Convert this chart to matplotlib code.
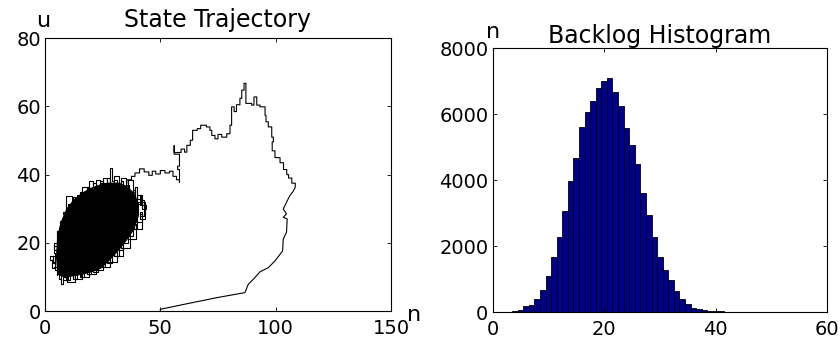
import matplotlib
matplotlib.use("Agg")
import matplotlib.pyplot as plt

plt.rcParams['font.family'] = ['DejaVu Sans']

# ---------------- data: state trajectory ----------------
# dense core region of the trajectory (outline of the solid cluster)
core_n = [5.5, 5, 5.5, 7, 9.5, 12.5, 16, 20, 24, 28, 32, 35.5, 38.5, 40.5, 40.5,
          38.5, 35.5, 32, 28, 24, 20, 16, 12, 8.5, 6.5]
core_u = [11.5, 16, 22, 26, 30, 32.5, 34.5, 36, 37, 37.5, 37.5, 36.5, 34.5, 31.5, 28,
          24, 21, 18, 15, 12.5, 11.5, 10.8, 10.3, 10, 10.5]

# ragged staircase around the cluster
edge_n = [3, 2, 3.5, 4.5, 4, 6, 5, 7, 6.5, 8, 9, 9, 11.6, 12, 13, 14, 15, 16, 18, 19,
          21, 22, 24, 25, 27, 28, 29, 30, 32, 33, 35, 36, 38, 39, 40, 42, 41, 43, 42,
          44, 43, 41, 42, 40, 40, 38, 38, 36, 36, 34, 34, 32, 32, 30, 29, 27, 26, 24,
          23, 21, 20, 18, 17, 15, 14, 12, 11, 9, 8, 7, 6, 5, 5, 4, 3]
edge_u = [15, 16, 14.5, 17, 19, 21, 23, 22, 25, 27, 24.5, 33.6, 30, 32, 31, 34, 33,
          36.5, 35, 38, 36, 38.5, 37, 39, 37.5, 42, 38, 39.5, 37, 39, 36, 38.5, 35,
          36.5, 33, 34, 31, 32.5, 30, 31, 28, 29, 26, 27, 24, 25, 22, 23, 20, 21, 18,
          19, 16, 17, 14, 15, 13, 14, 11.5, 12.5, 11, 12, 10, 11.5, 9.5, 11, 9, 10, 8,
          9.5, 11, 10.5, 13, 12.5, 15]

# second pass of the wandering around the cluster edge
edge2_n = [8, 10, 9.5, 13, 12, 16, 15.5, 19, 18, 22, 21.5, 25, 24, 28, 27, 31, 30, 34,
           33, 37, 36, 39.5, 38.5, 42, 41, 43.5, 40, 41.5, 38, 39, 35, 36.5, 33, 34,
           30, 31, 27, 28, 24, 25, 21, 22, 18, 19, 15, 16, 12, 13, 10, 11, 8, 9, 6.5,
           7.5, 5, 6, 4, 5, 3.5, 4.5, 6, 7]
edge2_u = [9, 10.5, 8.5, 11, 9.5, 12, 10, 12.5, 11, 13, 12, 14, 13, 15.5, 14.5, 17.5,
           16, 20, 18.5, 22.5, 21, 25.5, 24, 28.5, 27, 32, 34, 31.5, 35.5, 33, 37,
           35.5, 38, 36.5, 38.5, 37, 39, 37.5, 38, 36.5, 37.5, 36, 36.5, 34.5, 35, 33,
           33.5, 31.5, 31, 29, 28.5, 26.5, 25.5, 23.5, 22, 20, 18, 16, 14, 12, 11, 9.5]

# excursion path leaving the cluster
path_n = [35.5, 35.5, 37.5, 37.5, 39, 39, 41, 41, 43, 43, 45, 45, 46.5, 46.5, 48, 48,
          50, 50, 52, 52, 54, 54, 55.5, 55.5, 57, 57, 58.3, 58.3, 58.3, 57.5, 57.5,
          58.3, 58.3, 56, 56, 56, 59, 59, 60.5, 60.5, 61.5, 61.5, 63, 63, 64, 64, 66,
          66, 67.5, 67.5, 70, 70, 71.5, 71.5, 72.3, 72.3, 73.7, 73.7, 75, 75, 76.6,
          76.6, 78.8, 78.8, 80.2, 80.2, 80.9, 80.9, 82, 82, 83, 83, 84.5, 84.5, 85.3,
          85.3, 86.3, 86.3, 87.1, 87.1, 89.6, 89.6, 90.6, 90.6, 91.8, 91.8, 93.2,
          93.2, 95.4, 95.4, 95.8, 95.8, 96.8, 96.8, 98.3, 98.3, 99, 99, 98.5, 98.5,
          99.7, 99.7, 101.9, 101.9, 103.4, 103.4, 104.8, 104.8, 105.6, 105.6, 107,
          107, 108.5, 108.5, 107.5, 106.2, 104.7, 103.3, 104.7, 103.3, 105, 104.7,
          103.3, 103, 99.7, 96.8, 93.2, 91.0, 88.1, 86.7, 74.4, 59.9, 50.0, 50.0]
path_u = [37.5, 38.5, 38.5, 39.5, 39.5, 40.5, 40.5, 41.7, 41.7, 40.8, 40.8, 39.8,
          39.8, 41, 41, 40.2, 40.2, 41.2, 41.2, 40.5, 40.5, 41, 41, 39.5, 39.5, 38.5,
          38.5, 37.8, 41.5, 41.5, 42.5, 42.5, 46, 46, 48.5, 46.5, 46.5, 47.5, 47.5,
          46.6, 46.6, 48.6, 48.6, 50.1, 50.1, 53, 53, 53.5, 53.5, 54.5, 54.5, 54, 54,
          53, 53, 51.5, 51.5, 50.5, 50.5, 51.8, 51.8, 51, 51, 52, 52, 54.5, 54.5,
          59.9, 59.9, 58.5, 58.5, 60.5, 60.5, 62.4, 62.4, 64.8, 64.8, 66.8, 66.8,
          60.9, 60.9, 60.4, 60.4, 62.8, 62.8, 60.4, 60.4, 59.9, 59.9, 57.4, 57.4,
          55.5, 55.5, 54, 54, 51, 51, 49.6, 49.6, 47, 47, 45, 45, 43.5, 43.5, 41.5,
          41.5, 40, 40, 39, 39, 37.5, 37.5, 36.3, 35, 33.9, 31.9, 29.9, 28.5, 27.5,
          27, 23.1, 21.1, 17.6, 14.7, 12.7, 11.5, 9.8, 7.8, 5.4, 3.9, 1.9, 0.5, 0.0]

traj_xticks = [0, 50, 100, 150]
traj_yticks = [0, 20, 40, 60, 80]

# ---------------- data: backlog histogram ----------------
hist_bins = list(range(1, 61))
hist_counts = [0, 3, 8, 20, 50, 180, 225, 405, 665, 1090,
               1665, 2275, 3070, 3980, 4665, 5620, 6060, 6415, 6790, 7020,
               7100, 6680, 6245, 5595, 5080, 4505, 3605, 2930, 2275, 1655,
               1270, 978, 648, 405, 240, 135, 80, 55, 40, 30,
               20, 15, 10, 8, 5, 4, 3, 2, 2, 1,
               0, 0, 0, 0, 0, 0, 0, 0, 0, 0]
hist_xticks = [0, 20, 40, 60]
hist_yticks = [0, 2000, 4000, 6000, 8000]

# ---------------- figure ----------------
fig = plt.figure(figsize=(8.4, 3.4), dpi=100)
ax1 = fig.add_axes([0.05357, 0.08529, 0.41190, 0.80206])
ax2 = fig.add_axes([0.58631, 0.08235, 0.39857, 0.77559])

tick_fs = 14
lab_fs = 16
title_fs = 17

# left: state trajectory
ax1.fill(core_n, core_u, color='black', linewidth=0.8, edgecolor='black')
ax1.plot(edge_n, edge_u, color='black', linewidth=0.8, drawstyle='steps-post')
ax1.plot(edge2_n, edge2_u, color='black', linewidth=0.8, drawstyle='steps-post')
ax1.plot(path_n, path_u, color='black', linewidth=0.8)
ax1.set_xlim(traj_xticks[0], traj_xticks[-1])
ax1.set_ylim(traj_yticks[0], traj_yticks[-1])
ax1.set_xticks(traj_xticks)
ax1.set_yticks(traj_yticks)
ax1.set_title('State Trajectory', fontsize=title_fs, pad=8)
ax1.text(-0.004, 1.042, 'u', transform=ax1.transAxes, ha='center', va='baseline',
         fontsize=lab_fs)
ax1.text(1.066, -0.037, 'n', transform=ax1.transAxes, ha='center', va='baseline',
         fontsize=lab_fs)

# right: histogram
ax2.bar(hist_bins, hist_counts, width=1.0, color='#00008F', edgecolor='black',
        linewidth=0.6)
ax2.set_xlim(hist_xticks[0], hist_xticks[-1])
ax2.set_ylim(hist_yticks[0], hist_yticks[-1])
ax2.set_xticks(hist_xticks)
ax2.set_yticks(hist_yticks)
ax2.set_title('Backlog Histogram', fontsize=title_fs, pad=4)
ax2.text(0.002, 1.039, 'n', transform=ax2.transAxes, ha='center', va='baseline',
         fontsize=lab_fs)

for ax in (ax1, ax2):
    ax.tick_params(axis='both', direction='in', length=3, width=0.6,
                   top=True, right=True, labelsize=tick_fs)
    ax.tick_params(axis='x', pad=6)
    ax.tick_params(axis='y', pad=3)
    for sp in ax.spines.values():
        sp.set_linewidth(0.8)

fig.savefig('out.png', dpi=100)
